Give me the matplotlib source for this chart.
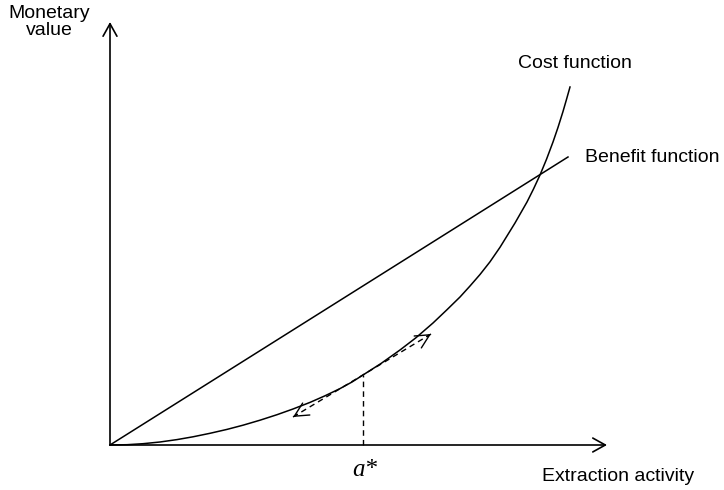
import matplotlib
matplotlib.use('Agg')
import matplotlib.pyplot as plt

plt.rcParams['font.family'] = ['Liberation Sans', 'DejaVu Sans']

cost_x = [0, 17, 33, 50, 67, 83, 100, 117, 133, 150, 167, 183, 200, 215, 230, 242, 253, 271,
          290, 306, 323, 337, 350, 360, 370, 380, 390, 405, 417, 423.5, 430, 436.5, 443, 448,
          453, 456.5, 460]
cost_y = [0, 0.3, 1.3, 3.0, 5.4, 8.2, 11.7, 15.6, 19.8, 24.8, 30.3, 36, 42.6, 49.2, 56.4, 63,
          70, 81.5, 95, 107.3, 122, 135.3, 148, 159, 170.5, 183.2, 197.7, 222, 243, 256, 270,
          285.7, 303, 317.6, 333.5, 345.6, 358]
benefit_x = [0, 458]
benefit_y = [0, 288]
a_star = 253
a_star_cost = 70
tangent_x = [183, 321]
tangent_y = [28, 111]
x_axis_end = 497
y_axis_end = 423

fig = plt.figure(figsize=(7.24, 4.9), dpi=100)
ax = fig.add_axes([0, 0, 1, 1])
ax.set_xlim(-110, 614)
ax.set_ylim(-45, 445)
ax.axis('off')

# axes with open arrow heads
axis_arrow = dict(arrowstyle='->,head_length=0.9,head_width=0.5', lw=1.2, color='black',
                  shrinkA=0, shrinkB=0)
ax.annotate('', xy=(0, y_axis_end), xytext=(0, 0), arrowprops=axis_arrow)
ax.annotate('', xy=(x_axis_end, 0), xytext=(0, 0), arrowprops=axis_arrow)

# curves
ax.plot(benefit_x, benefit_y, color='black', lw=1.1)
ax.plot(cost_x, cost_y, color='black', lw=1.1, solid_joinstyle='round')

# tangent at a*
ax.plot(tangent_x, tangent_y, color='black', lw=1.0, ls=(0, (4, 3)))
head = dict(arrowstyle='->,head_length=1.0,head_width=0.5', lw=1.0, color='black',
            shrinkA=0, shrinkB=0)
dx = (tangent_x[1] - tangent_x[0]) * 0.03
dy = (tangent_y[1] - tangent_y[0]) * 0.03
ax.annotate('', xy=(tangent_x[1], tangent_y[1]), xytext=(tangent_x[1] - dx, tangent_y[1] - dy),
            arrowprops=head)
ax.annotate('', xy=(tangent_x[0], tangent_y[0]), xytext=(tangent_x[0] + dx, tangent_y[0] + dy),
            arrowprops=head)
ax.plot([a_star, a_star], [0, a_star_cost], color='black', lw=1.0, ls=(0, (4, 3)))

# labels
ax.text(-61, 423, 'Monetary\nvalue', ha='center', va='center', fontsize=14, linespacing=1.05)
ax.text(465, 381, 'Cost function', ha='center', va='center', fontsize=14)
ax.text(475, 287, 'Benefit function', ha='left', va='center', fontsize=14)
ax.text(508, -31, 'Extraction activity', ha='center', va='center', fontsize=14)
ax.text(a_star + 2, -25, 'a*', ha='center', va='center', fontsize=18,
        family=['Liberation Serif', 'DejaVu Serif'], style='italic')

fig.savefig('out.png', dpi=100)
